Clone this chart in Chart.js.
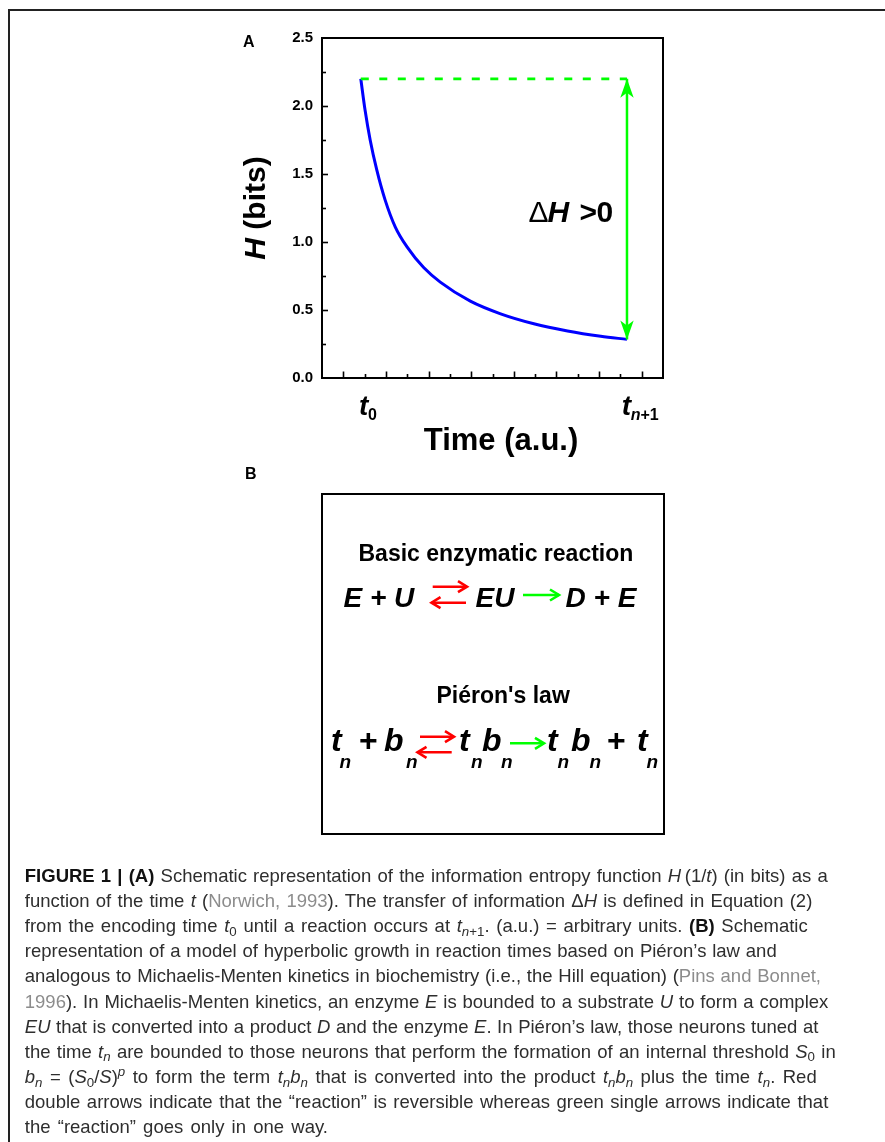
<!DOCTYPE html>
<html>
<head>
<meta charset="utf-8">
<script src="https://cdn.jsdelivr.net/npm/chart.js@4"></script>
<style>
  html, body { margin:0; padding:0; background:#fff; }
  body { width:885px; height:1142px; position:relative; overflow:hidden; font-family:"Liberation Sans", Arial, sans-serif; }
  .frame { position:absolute; left:8px; top:9px; width:900px; height:1200px; border-top:2px solid #222; border-left:2px solid #222; }
  .t { position:absolute; white-space:nowrap; line-height:1; color:#000; }
  .cap { position:absolute; white-space:nowrap; line-height:1; color:#2e2e2e; font-size:18.5px; font-family:"Liberation Sans", Arial, sans-serif; }
  .cap b { font-weight:bold; color:#111; }
  .cap .g { color:#8c8c8c; }
  .cap sub, .cap sup { font-size:0.72em; line-height:0; vertical-align:baseline; position:relative; }
  .cap sub { top:0.28em; }
  .cap sup { top:-0.55em; }
  #boxB { position:absolute; left:321px; top:493px; width:344px; height:342px; box-sizing:border-box; border:2px solid #000; }
  #chartA { position:absolute; left:230px; top:20px; }
  #arrowsB { position:absolute; left:0; top:0; }
</style>
</head>
<body>
<div class="frame"></div>
<canvas id="chartA" width="450" height="445"></canvas>
<div id="boxB"></div>
<svg id="arrowsB" width="885" height="1142"></svg>
<div id="layer"></div>
<script>
// ---------------- data (panel A) ----------------
const curveTime = [1.82, 2.02, 2.26, 2.57, 2.96, 3.44, 3.99, 4.77, 5.55, 6.96, 8.38, 9.94, 11.52, 13.08, 14.31];
const curveH    = [2.20, 1.97, 1.75, 1.53, 1.31, 1.11, 0.964, 0.812, 0.705, 0.565, 0.472, 0.399, 0.346, 0.307, 0.284];
const levelTime = [1.82, 14.31];
const levelH    = [2.20, 2.20];
const arrowTime = [14.31, 14.31];
const arrowH    = [2.20, 0.284];
const yTickLabels = ['0.0', '0.5', '1.0', '1.5', '2.0', '2.5'];
const xTickTimes = [1.74, 14.07];
const xTickMain  = ['t', 't'];
const xTickSubItalic = ['', 'n'];
const xTickSubUpright = ['0', '+1'];
const xTitle = 'Time (a.u.)';
const xTitleAt = 8.4;
const deltaLabelAt = [9.74, 1.146];

const FONT = '"Liberation Sans", Arial, sans-serif';
const GREEN = '#00ff00', BLUE = '#0000ff';

function pts(xs, ys) { return xs.map((x, i) => ({ x: x, y: ys[i] })); }

const decor = {
  id: 'decor',
  afterDatasetsDraw(chart) {
    const { ctx, chartArea: a, scales: { x, y } } = chart;
    ctx.save();
    // frame
    ctx.strokeStyle = '#000'; ctx.lineWidth = 2;
    ctx.strokeRect(a.left, a.top, a.right - a.left, a.bottom - a.top);
    // inward ticks, x
    ctx.lineWidth = 1.6;
    for (let v = 1; v < 16; v++) {
      const px = Math.round(x.getPixelForValue(v)) + 0.5;
      const len = v % 2 === 1 ? 6.5 : 4;
      ctx.beginPath(); ctx.moveTo(px, a.bottom); ctx.lineTo(px, a.bottom - len); ctx.stroke();
    }
    // inward ticks, y
    for (let k = 1; k < 10; k++) {
      const v = k * 0.25;
      const py = Math.round(y.getPixelForValue(v)) + 0.5;
      const len = k % 2 === 0 ? 6 : 4;
      ctx.beginPath(); ctx.moveTo(a.left, py); ctx.lineTo(a.left + len, py); ctx.stroke();
    }
    // arrow heads
    const ax = x.getPixelForValue(arrowTime[0]);
    const head = (tipY, dir) => {
      const L = 19, W = 6.7, N = 5;
      ctx.beginPath();
      ctx.moveTo(ax, tipY);
      ctx.lineTo(ax - W, tipY + dir * L);
      ctx.lineTo(ax, tipY + dir * (L - N));
      ctx.lineTo(ax + W, tipY + dir * L);
      ctx.closePath();
      ctx.fillStyle = GREEN; ctx.fill();
    };
    head(y.getPixelForValue(arrowH[0]), 1);
    head(y.getPixelForValue(arrowH[1]), -1);
    // x tick labels  t0 , t n+1
    ctx.fillStyle = '#000'; ctx.textBaseline = 'alphabetic'; ctx.textAlign = 'left';
    xTickTimes.forEach((tv, i) => {
      const px = x.getPixelForValue(tv);
      const base = a.bottom + 37;
      ctx.font = 'italic bold 28px ' + FONT;
      ctx.fillText(xTickMain[i], px, base);
      let sx = px + ctx.measureText(xTickMain[i]).width - 0.5;
      if (xTickSubItalic[i]) {
        ctx.font = 'italic bold 16px ' + FONT;
        ctx.fillText(xTickSubItalic[i], sx, base + 5);
        sx += ctx.measureText(xTickSubItalic[i]).width;
      }
      ctx.font = 'bold 16px ' + FONT;
      ctx.fillText(xTickSubUpright[i], sx, base + 5);
    });
    // x axis title
    ctx.font = 'bold 31px ' + FONT;
    ctx.textAlign = 'center';
    ctx.fillText(xTitle, x.getPixelForValue(xTitleAt), a.bottom + 71.5);
    ctx.textAlign = 'left';
    // y axis title  H (bits)
    ctx.save();
    ctx.translate(35, (a.top + a.bottom) / 2);
    ctx.rotate(-Math.PI / 2);
    ctx.font = 'italic bold 30px ' + FONT;
    const w1 = ctx.measureText('H').width;
    ctx.font = 'bold 30px ' + FONT;
    const w2 = ctx.measureText(' (bits)').width;
    let sx = -(w1 + w2) / 2;
    ctx.font = 'italic bold 30px ' + FONT;
    ctx.fillText('H', sx, 0);
    ctx.font = 'bold 30px ' + FONT;
    ctx.fillText(' (bits)', sx + w1, 0);
    ctx.restore();
    // delta H > 0
    const dx = x.getPixelForValue(deltaLabelAt[0]);
    const dy = y.getPixelForValue(deltaLabelAt[1]);
    ctx.font = '30px ' + FONT;
    ctx.fillText('\u0394', dx - 1, dy);
    ctx.font = 'italic bold 30px ' + FONT;
    ctx.fillText('H', dx + 18, dy);
    ctx.font = 'bold 30px ' + FONT;
    ctx.fillText('>', dx + 50, dy);
    ctx.fillText('0', dx + 67, dy);
    ctx.restore();
  }
};

new Chart(document.getElementById('chartA'), {
  type: 'scatter',
  data: {
    datasets: [
      { data: pts(levelTime, levelH), showLine: true, borderColor: GREEN, borderWidth: 2.7, borderDash: [8, 10.5], pointRadius: 0 },
      { data: pts(arrowTime, arrowH), showLine: true, borderColor: GREEN, borderWidth: 2.5, pointRadius: 0 },
      { data: pts(curveTime, curveH), showLine: true, borderColor: BLUE, borderWidth: 3, pointRadius: 0, cubicInterpolationMode: 'monotone' }
    ]
  },
  options: {
    responsive: false,
    animation: false,
    devicePixelRatio: 1,
    layout: { padding: { left: 0, top: 17, right: 17, bottom: 0 } },
    plugins: { legend: { display: false }, tooltip: { enabled: false } },
    scales: {
      x: {
        type: 'linear', min: 0, max: 16,
        ticks: { display: false, stepSize: 1 },
        grid: { display: false, drawTicks: false },
        border: { display: false },
        afterFit(s) { s.height = 87; }
      },
      y: {
        min: 0, max: 2.5,
        ticks: { stepSize: 0.5, padding: 9, color: '#000', font: { family: FONT, weight: 'bold', size: 15 },
                 callback: (v, i) => yTickLabels[i] },
        grid: { display: false, drawTicks: false },
        border: { display: false },
        afterFit(s) { s.width = 92; }
      }
    }
  },
  plugins: [decor]
});

// ---------------- panel labels, panel B, caption (layout text) ----------------
const layer = document.getElementById('layer');
function put(html, x, base, size, style) {
  const d = document.createElement('div');
  d.className = 't';
  d.style.left = x + 'px';
  d.style.top = (base - 0.8465 * size) + 'px';
  d.style.fontSize = size + 'px';
  d.style.cssText += style || '';
  d.innerHTML = html;
  layer.appendChild(d);
  return d;
}
const BOLD = 'font-weight:bold;';
const BI = 'font-weight:bold;font-style:italic;';
put('A', 243, 48, 16, BOLD);
put('B', 245, 480, 16, BOLD);
put('Basic enzymatic reaction', 358.5, 561, 23, BOLD);
put('Pi\u00e9ron\'s law', 436.5, 703, 23, BOLD);
// row 1
put('E + U', 343.5, 608, 28, BI);
put('EU', 475.5, 608, 28, BI);
put('D + E', 565.5, 608, 28, BI);
// row 2
[331, 459, 547, 637].forEach(x => put('t', x, 751, 32, BI));
[384, 482, 571].forEach(x => put('b', x, 751, 32, BI));
[339.5, 406, 471, 501, 557.5, 589.5, 646.5].forEach(x => put('n', x, 768, 19, BI));
[359, 607].forEach(x => put('+', x, 751, 32, BOLD));

// arrows in panel B
const svg = document.getElementById('arrowsB');
function arrow(x1, x2, y, color, dir) {
  const ns = 'http://www.w3.org/2000/svg';
  const l = document.createElementNS(ns, 'line');
  l.setAttribute('x1', x1); l.setAttribute('x2', x2); l.setAttribute('y1', y); l.setAttribute('y2', y);
  l.setAttribute('stroke', color); l.setAttribute('stroke-width', 2.6);
  svg.appendChild(l);
  const tip = dir > 0 ? x2 : x1;
  const p = document.createElementNS(ns, 'polyline');
  p.setAttribute('points', `${tip - dir * 9},${y - 5.5} ${tip},${y} ${tip - dir * 9},${y + 5.5}`);
  p.setAttribute('fill', 'none'); p.setAttribute('stroke', color); p.setAttribute('stroke-width', 2.6);
  p.setAttribute('stroke-linejoin', 'miter');
  svg.appendChild(p);
}
arrow(432.7, 467, 586.7, '#ff0000', 1);
arrow(431.5, 466, 602.7, '#ff0000', -1);
arrow(523, 559, 595, '#00ff00', 1);
arrow(420, 454, 736.7, '#ff0000', 1);
arrow(417.5, 451.7, 752.3, '#ff0000', -1);
arrow(510, 544, 743.3, '#00ff00', 1);

// caption
const capLines = [
  '<b>FIGURE 1 | (A)</b> Schematic representation of the information entropy function <i>H</i>\u2009(1/<i>t</i>) (in bits) as a',
  'function of the time <i>t</i> (<span class="g">Norwich, 1993</span>). The transfer of information \u0394<i>H</i> is defined in Equation (2)',
  'from the encoding time <i>t</i><sub>0</sub> until a reaction occurs at <i>t</i><sub><i>n</i>+1</sub>. (a.u.) = arbitrary units. <b>(B)</b> Schematic',
  'representation of a model of hyperbolic growth in reaction times based on Pi\u00e9ron\u2019s law and',
  'analogous to Michaelis-Menten kinetics in biochemistry (i.e., the Hill equation) (<span class="g">Pins and Bonnet,</span>',
  '<span class="g">1996</span>). In Michaelis-Menten kinetics, an enzyme <i>E</i> is bounded to a substrate <i>U</i> to form a complex',
  '<i>EU</i> that is converted into a product <i>D</i> and the enzyme <i>E</i>. In Pi\u00e9ron\u2019s law, those neurons tuned at',
  'the time <i>t<sub>n</sub></i> are bounded to those neurons that perform the formation of an internal threshold <i>S</i><sub>0</sub> in',
  '<i>b<sub>n</sub></i> = (<i>S</i><sub>0</sub>/<i>S</i>)<sup><i>p</i></sup> to form the term <i>t<sub>n</sub>b<sub>n</sub></i> that is converted into the product <i>t<sub>n</sub>b<sub>n</sub></i> plus the time <i>t<sub>n</sub></i>. Red',
  'double arrows indicate that the \u201creaction\u201d is reversible whereas green single arrows indicate that',
  'the \u201creaction\u201d goes only in one way.'
];
const capEnds = [827.7, 812.3, 807.7, 776.7, 821, 828.3, 818.3, 835.7, 816.7, 828.3, 328];
capLines.forEach((h, i) => {
  const d = document.createElement('div');
  d.className = 'cap';
  const size = 18.5, base = 882.7 + 25.1 * i, left = 24.8;
  d.style.left = left + 'px';
  d.style.top = (base - 0.8465 * size) + 'px';
  d.innerHTML = h;
  layer.appendChild(d);
  if (capEnds[i]) {
    const w = d.getBoundingClientRect().width;
    const spaces = (d.textContent.match(/ /g) || []).length;
    if (spaces) d.style.wordSpacing = ((capEnds[i] - left - w) / spaces) + 'px';
  }
});
</script>
</body>
</html>
